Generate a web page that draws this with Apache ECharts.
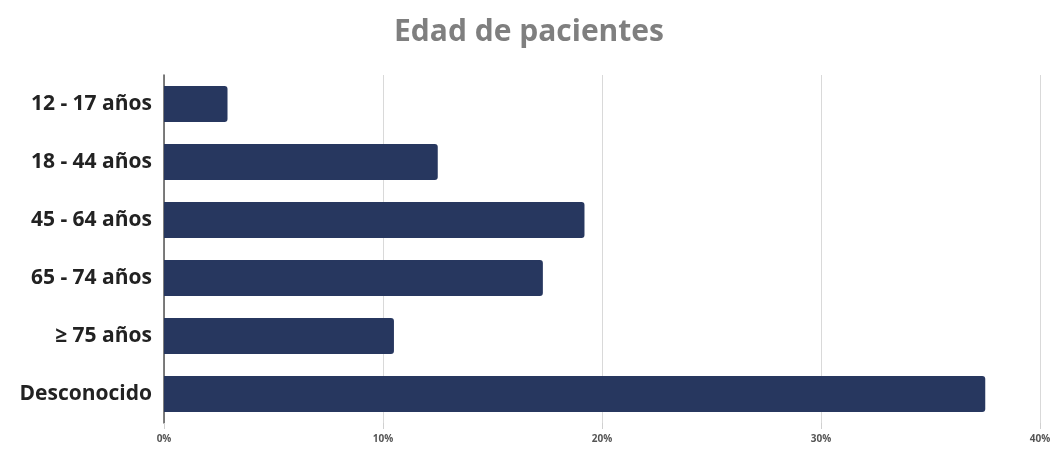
<!DOCTYPE html>
<html><head><meta charset="utf-8">
<script src="https://cdn.jsdelivr.net/npm/echarts@6/dist/echarts.min.js"></script>
<style>html,body{margin:0;padding:0;background:#fff}#c{width:1058px;height:454px}</style>
</head><body><div id="c"></div>
<script>
const categories = ["12 - 17 años","18 - 44 años","45 - 64 años","65 - 74 años","≥ 75 años","Desconocido"];
const values = [2.9, 12.5, 19.2, 17.3, 10.5, 37.5];
const xTicks = [0, 10, 20, 30, 40];

const chart = echarts.init(document.getElementById('c'));
chart.setOption({
  animation: false,
  title: {
    text: 'Edad de pacientes', left: 'center', top: 12,
    textStyle: {fontFamily: 'Open Sans', fontWeight: 'bold', fontSize: 30, color: '#7f7f7f'}
  },
  grid: {left: 164, right: 18, top: 75, bottom: 31},
  xAxis: {
    type: 'value', min: xTicks[0], max: xTicks[xTicks.length-1], interval: 10,
    axisLine: {show: false},
    axisTick: {show: true, length: 6, lineStyle: {color: '#d0d0d0'}},
    splitLine: {show: true, lineStyle: {color: '#d9d9d9', width: 1}},
    axisLabel: {formatter: v => v + '%', fontFamily: 'Open Sans', fontWeight: 'bold', fontSize: 10, color: '#555', margin: 11}
  },
  yAxis: {
    type: 'category', data: categories, inverse: true,
    axisLine: {show: true, lineStyle: {color: '#555', width: 1.5}},
    axisTick: {show: false},
    axisLabel: {fontFamily: 'Open Sans', fontWeight: 'bold', fontSize: 21, color: '#222', margin: 12}
  },
  series: [{
    type: 'bar', data: values, barCategoryGap: '38%',
    itemStyle: {color: '#27375f', borderRadius: [0, 3, 3, 0]}
  }]
});
</script></body></html>
